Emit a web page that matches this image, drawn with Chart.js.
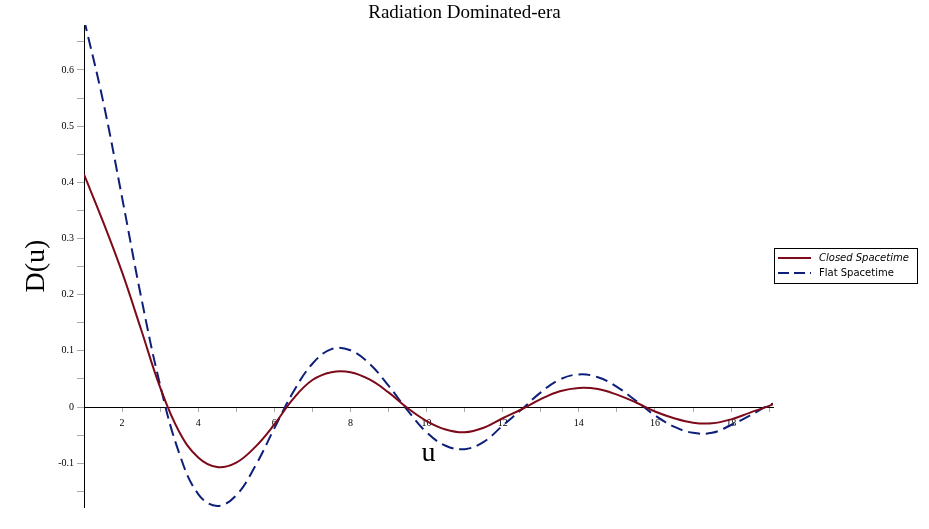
<!DOCTYPE html>
<html>
<head>
<meta charset="utf-8">
<script src="https://cdn.jsdelivr.net/npm/chart.js@4.4.1/dist/chart.umd.min.js"></script>
<style>
  html, body { margin: 0; padding: 0; background: #fff; }
  #wrap { width: 929px; height: 529px; }
</style>
</head>
<body>
<div id="wrap"><canvas id="radChart" width="929" height="529"></canvas></div>
<script>
// values
let uValues = [1, 1.5, 2, 2.5, 3, 3.5, 4, 4.5, 5, 5.5, 6, 6.5, 7, 7.5, 8, 8.5, 9, 9.5, 10,
    10.5, 11, 11.5, 12, 12.5, 13, 13.5, 14, 14.5, 15, 15.5, 16, 16.5, 17, 17.5, 18, 18.5, 19, 19.1];

let closedValues = [0.414, 0.330, 0.240, 0.138, 0.035, -0.044, -0.090, -0.107, -0.099, -0.071,
    -0.031, 0.015, 0.048, 0.062, 0.062, 0.049, 0.026, -0.002, -0.025, -0.040, -0.045, -0.037,
    -0.020, -0.004, 0.014, 0.028, 0.034, 0.032, 0.022, 0.008, -0.008, -0.020, -0.028, -0.029,
    -0.022, -0.010, 0.002, 0.005];

let flatValues = [0.690, 0.545, 0.373, 0.196, 0.039, -0.082, -0.155, -0.176, -0.157, -0.105,
    -0.038, 0.027, 0.077, 0.103, 0.101, 0.077, 0.038, -0.006, -0.045, -0.069, -0.075, -0.062,
    -0.033, -0.004, 0.026, 0.049, 0.058, 0.053, 0.036, 0.011, -0.015, -0.035, -0.046, -0.046,
    -0.032, -0.015, 0.004, 0.006];

let xTicks = [1, 2, 3, 4, 5, 6, 7, 8, 9, 10, 11, 12, 13, 14, 15, 16, 17, 18, 19];
let yTicks = [-0.15, -0.1, -0.05, 0, 0.05, 0.1, 0.15, 0.2, 0.25, 0.3, 0.35, 0.4, 0.45, 0.5, 0.55, 0.6, 0.65];

let chartTitle = "Radiation Dominated-era";
let seriesNames = ["Closed Spacetime", "Flat Spacetime"];
let closedColor = "#7d0a1a";
let flatColor = "#0e1f7a";

function toPoints(ys){
    return uValues.map((u, i) => ({ x: u, y: ys[i] }));
}

// title over the whole canvas + legend box drawn by hand (one entry is italic)
const sideLegend = {
    id: "sideLegend",
    afterDraw(chart){
        let ctx = chart.ctx;
        let area = chart.chartArea;
        ctx.save();

        ctx.fillStyle = "#000";
        ctx.font = "19px 'Liberation Serif'";
        ctx.textAlign = "center";
        ctx.textBaseline = "middle";
        ctx.fillText(chartTitle, chart.width / 2, 13);

        let left = area.right + 1;
        let top = Math.round((area.top + area.bottom) / 2) - 18;
        ctx.strokeStyle = "#000";
        ctx.lineWidth = 1;
        ctx.strokeRect(left + 0.5, top + 0.5, 143, 35);

        let rows = [
            { name: seriesNames[0], color: closedColor, dash: [], font: "italic 10px 'DejaVu Sans'" },
            { name: seriesNames[1], color: flatColor, dash: [11, 5], font: "10px 'DejaVu Sans'" }
        ];
        rows.forEach((r, i) => {
            let y = top + 10 + i * 15;
            ctx.beginPath();
            ctx.setLineDash(r.dash);
            ctx.strokeStyle = r.color;
            ctx.lineWidth = 2;
            ctx.moveTo(left + 4, y);
            ctx.lineTo(left + 37, y);
            ctx.stroke();
            ctx.setLineDash([]);
            ctx.fillStyle = "#000";
            ctx.font = r.font;
            ctx.textBaseline = "middle";
            ctx.textAlign = "left";
            ctx.fillText(r.name, left + 45, y);
        });
        ctx.restore();
    }
};

let chart = new Chart(document.getElementById("radChart"), {
    type: "line",
    data: {
        datasets: [{
            label: seriesNames[0],
            data: toPoints(closedValues),
            borderColor: closedColor,
            borderWidth: 2,
            pointRadius: 0,
            tension: 0.4,
            fill: false
        }, {
            label: seriesNames[1],
            data: toPoints(flatValues),
            borderColor: flatColor,
            borderWidth: 2,
            borderDash: [12, 6],
            pointRadius: 0,
            tension: 0.4,
            fill: false
        }]
    },
    options: {
        responsive: false,
        animation: false,
        layout: { padding: { left: 0, right: 156, top: 25, bottom: 22 } },
        plugins: {
            legend: { display: false },
            tooltip: { enabled: false },
            title: { display: false }
        },
        scales: {
            x: {
                type: "linear",
                min: 1,
                max: 19.1,
                position: { y: 0 },
                afterBuildTicks: axis => { axis.ticks = xTicks.map(v => ({ value: v })); },
                ticks: {
                    autoSkip: false,
                    maxRotation: 0,
                    padding: 6,
                    color: "#000",
                    font: { family: "'Liberation Serif'", size: 10 },
                    callback: v => (v % 2 === 0 ? String(v) : "")
                },
                grid: { drawOnChartArea: false, tickLength: 4, color: "#aaa" },
                border: { color: "#000", width: 1 },
                title: {
                    display: true,
                    text: "u",
                    color: "#000",
                    font: { family: "'Liberation Serif'", size: 28, lineHeight: 1.2 },
                    padding: { top: 2, bottom: 0 }
                }
            },
            y: {
                type: "linear",
                min: -0.178,
                max: 0.68,
                afterBuildTicks: axis => { axis.ticks = yTicks.map(v => ({ value: v })); },
                afterFit: scale => { scale.width = 84; },
                ticks: {
                    autoSkip: false,
                    padding: 3,
                    color: "#000",
                    font: { family: "'Liberation Serif'", size: 10 },
                    callback: v => {
                        let r = Math.round(v * 100);
                        if (r % 10 !== 0) return "";
                        if (r === 0) return "0";
                        return (r / 100).toFixed(1);
                    }
                },
                grid: { drawOnChartArea: false, tickLength: 7, color: "#aaa" },
                border: { color: "#000", width: 1 },
                title: {
                    display: true,
                    text: "D(u)",
                    color: "#000",
                    font: { family: "'Liberation Serif'", size: 28, lineHeight: 1.2 },
                    padding: { top: 20, bottom: 0 }
                }
            }
        }
    },
    plugins: [sideLegend]
});
</script>
</body>
</html>
